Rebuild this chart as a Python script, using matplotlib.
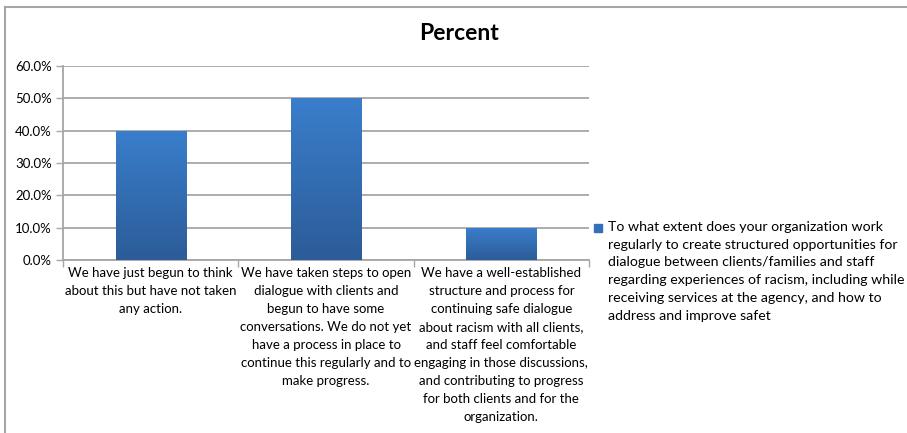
import matplotlib.pyplot as plt
import numpy as np
from matplotlib.colors import LinearSegmentedColormap
from matplotlib.lines import Line2D
from matplotlib.patches import Rectangle

plt.rcParams['font.family'] = ['Lato', 'DejaVu Sans']

categories = [
    'We have just begun to think\nabout this but have not taken\nany action.',
    'We have taken steps to open\ndialogue with clients and\nbegun to have some\nconversations. We do not yet\nhave a process in place to\ncontinue this regularly and to\nmake progress.',
    'We have a well-established\nstructure and process for\ncontinuing safe dialogue\nabout racism with all clients,\nand staff feel comfortable\nengaging in those discussions,\nand contributing to progress\nfor both clients and for the\norganization.',
]
percent = [40.0, 50.0, 10.0]
series_name = ('To what extent does your organization work\n'
               'regularly to create structured opportunities for\n'
               'dialogue between clients/families and staff\n'
               'regarding experiences of racism, including while\n'
               'receiving services at the agency, and how to\n'
               'address and improve safet')
yticks = [0, 10, 20, 30, 40, 50, 60]

W, H = 907, 433
fig = plt.figure(figsize=(W / 100, H / 100), dpi=100)
ax = fig.add_axes([63 / W, 1 - 260 / H, (589 - 63) / W, (260 - 66) / H])

x = np.arange(len(percent))
bars = ax.bar(x, percent, width=0.4, color='#3470BA', zorder=3)

# vertical gradient on each bar, lighter at top
grad = np.linspace(0, 1, 256).reshape(-1, 1)
cmap = LinearSegmentedColormap.from_list('bar', ['#2C5C98', '#3A7ECC'])
for b in bars:
    x0, w, h = b.get_x(), b.get_width(), b.get_height()
    im = ax.imshow(grad, extent=[x0, x0 + w, 0, h], origin='lower', cmap=cmap,
                   aspect='auto', zorder=4)
    im.set_clip_path(b)

ax.set_xlim(-0.5, len(percent) - 0.5)
ax.set_ylim(0, 60)
ax.set_yticks(yticks)
ax.set_yticklabels([f'{v:.1f}%' for v in yticks], fontsize=9.5)
ax.yaxis.grid(True, color='#A6A6A6', linewidth=1.3, zorder=0)
ax.set_axisbelow(True)

ax.set_xticks(x)
ax.set_xticklabels(categories, fontsize=9.5, linespacing=1.6)
ax.tick_params(axis='x', length=0, pad=5)
ax.set_xticks(np.arange(-0.5, len(percent)), minor=True)
ax.tick_params(axis='x', which='minor', length=5, color='#A6A6A6', width=1)
ax.tick_params(axis='y', length=5, color='#A6A6A6', width=1, pad=3)
for s in ['top', 'right']:
    ax.spines[s].set_visible(False)
for s in ['left', 'bottom']:
    ax.spines[s].set_color('#A6A6A6')
    ax.spines[s].set_linewidth(1.3)

fig.text(459 / W, 1 - 34 / H, 'Percent', ha='center', va='center',
         fontsize=16.5, fontweight='bold')

# legend
fig.patches.append(Rectangle((594 / W, 1 - 232 / H), 8 / W, 8 / H,
                             transform=fig.transFigure, color='#3470BA'))
fig.text(608 / W, 1 - 221 / H, series_name, ha='left', va='top',
         fontsize=10.2, linespacing=1.57)

# chart frame
fig.lines.append(Line2D([5 / W, 1], [1 - 6.5 / H] * 2, transform=fig.transFigure,
                        color='#A6A6A6', linewidth=1.5))
fig.lines.append(Line2D([5 / W] * 2, [0, 1 - 6.5 / H], transform=fig.transFigure,
                        color='#A6A6A6', linewidth=1.5))

fig.savefig('out.png', dpi=100)
